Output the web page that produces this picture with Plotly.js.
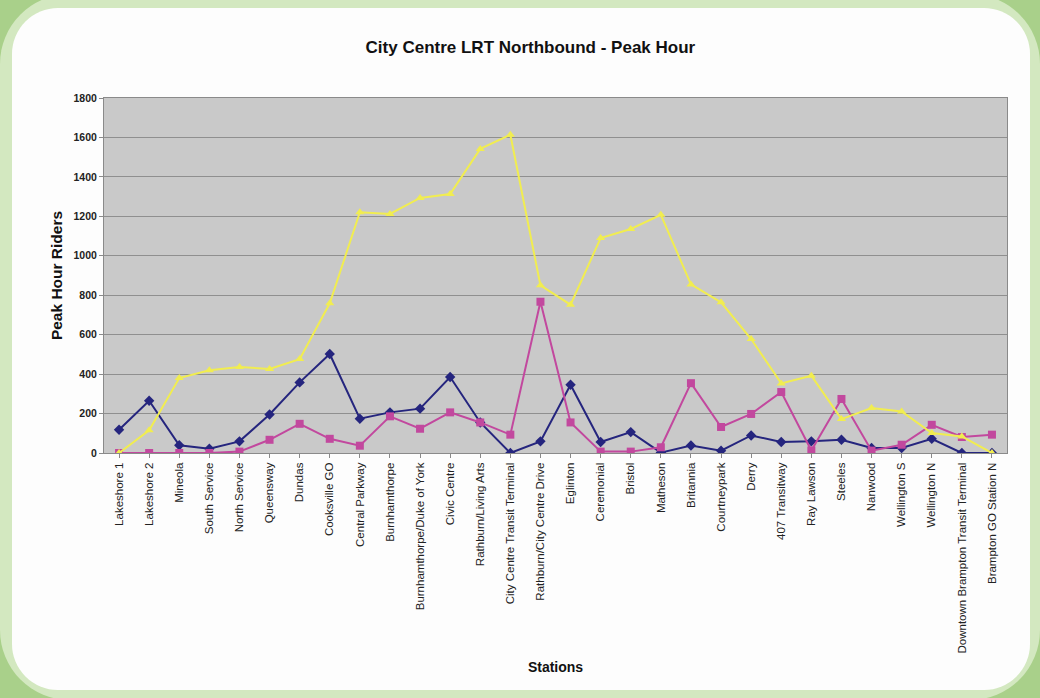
<!DOCTYPE html>
<html>
<head>
<meta charset="utf-8">
<script src="https://cdn.plot.ly/plotly-3.0.1.min.js"></script>
<style>
  html, body { margin:0; padding:0; width:1040px; height:698px; overflow:hidden; background:#a9d08a; }
  #ring { position:absolute; left:0; top:-6px; width:1040px; height:706px; background:#d3e8c0; border-radius:70px; }
  #panel { position:absolute; left:12px; top:8px; width:1018px; height:682px; background:#fdfdfd; border-radius:46px; }
  #chart { position:absolute; left:0; top:0; width:1040px; height:698px; }
</style>
</head>
<body>
<div id="ring"></div>
<div id="panel"></div>
<div id="chart"></div>
<script>
const stations = ["Lakeshore 1","Lakeshore 2","Mineola","South Service","North Service","Queensway","Dundas","Cooksville GO","Central Parkway","Burnhamthorpe","Burnhamthorpe/Duke of York","Civic Centre","Rathburn/Living Arts","City Centre Transit Terminal","Rathburn/City Centre Drive","Eglinton","Ceremonial","Bristol","Matheson","Britannia","Courtneypark","Derry","407 Transitway","Ray Lawson","Steeles","Nanwood","Wellington S","Wellington N","Downtown Brampton Transit Terminal","Brampton GO Station N"];

const blueSeries    = [118,265,39,22,59,195,358,502,174,206,225,385,155,0,59,346,56,106,2,38,12,89,56,59,67,25,25,72,0,0];
const magentaSeries = [0,0,0,0,7,67,148,72,37,186,123,206,155,93,767,155,7,7,29,354,132,198,309,13,274,12,42,143,81,93];
const yellowSeries  = [0,115,380,419,436,426,476,759,1221,1212,1293,1313,1542,1614,850,752,1090,1136,1208,855,764,578,353,392,172,228,211,101,84,0];

const yTicks = [0,200,400,600,800,1000,1200,1400,1600,1800];

const traces = [
  {x: stations, y: blueSeries, type:'scatter', mode:'lines+markers', name:'Series 1',
   line:{color:'#25257e', width:2}, marker:{symbol:'diamond', size:8, color:'#25257e'}},
  {x: stations, y: magentaSeries, type:'scatter', mode:'lines+markers', name:'Series 2',
   line:{color:'#c2489e', width:2}, marker:{symbol:'square', size:8, color:'#c2489e'}},
  {x: stations, y: yellowSeries, type:'scatter', mode:'lines+markers', name:'Series 3',
   line:{color:'#f1ed50', width:2}, marker:{symbol:'triangle-up', size:8, color:'#f1ed50'}}
];

const layout = {
  width:1040, height:698,
  paper_bgcolor:'rgba(0,0,0,0)',
  plot_bgcolor:'#c9c9c9',
  showlegend:false,
  margin:{l:104, r:33, t:98, b:245},
  font:{family:'Liberation Sans, Arial, sans-serif', color:'#111'},
  title:{text:'<b>City Centre LRT Northbound - Peak Hour</b>', x:0.51, xanchor:'center', y:0.933, yanchor:'middle',
         font:{size:17, family:'Liberation Sans, Arial, sans-serif', color:'#111'}},
  xaxis:{type:'category', range:[-0.5, stations.length-0.5], tickangle:-90, tickfont:{size:11.5, color:'#222'},
         showline:true, linecolor:'#8a8a8a', linewidth:1, mirror:true,
         ticks:'outside', ticklen:4, tickcolor:'#8a8a8a', showgrid:false, zeroline:false,
         title:{text:'<b>Stations</b>', font:{size:14, color:'#111'}, standoff:9}, automargin:false},
  yaxis:{range:[0,1800], tickvals:yTicks, ticktext:yTicks.map(v=>'<b>'+v+'</b>'), tickfont:{size:10.5, color:'#222'},
         showgrid:true, gridcolor:'#8f8f8f', gridwidth:1,
         showline:true, linecolor:'#8a8a8a', linewidth:1, mirror:true,
         ticks:'outside', ticklen:4, tickcolor:'#8a8a8a', zeroline:false,
         title:{text:'<b>Peak Hour Riders</b>', font:{size:15.5, color:'#111'}, standoff:7}, automargin:false}
};

Plotly.newPlot('chart', traces, layout, {displayModeBar:false, staticPlot:true});
</script>
</body>
</html>
